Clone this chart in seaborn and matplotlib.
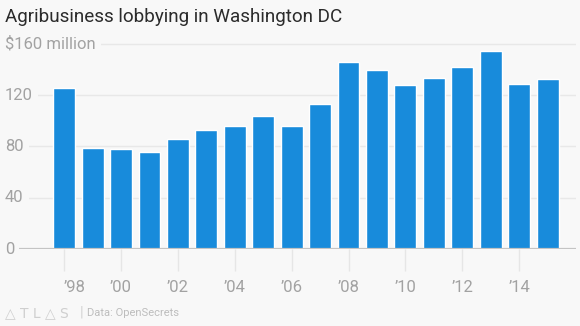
import matplotlib
matplotlib.use("Agg")
import matplotlib.pyplot as plt
import seaborn as sns
import pandas as pd

years = list(range(1998, 2016))
year_labels = [str(y) for y in years]
values = [125.7, 79.0, 78.2, 75.4, 85.5, 92.7, 96.1, 103.9, 95.6, 112.8,
          145.5, 139.8, 127.6, 133.5, 141.9, 154.1, 128.4, 132.7]
ytick_vals = [0, 40, 80, 120, 160]
ytick_labels = ["0", "40", "80", "120", "$160 million"]
xtick_years = [1998, 2000, 2002, 2004, 2006, 2008, 2010, 2012, 2014]
xtick_labels = ["\u201998", "\u201900", "\u201902", "\u201904", "\u201906",
                "\u201908", "\u201910", "\u201912", "\u201914"]
title = "Agribusiness lobbying in Washington DC"
source = "Data: OpenSecrets"

BG = "#f8f8f8"
BAR = "#188bdb"
GRID = "#e8e8e8"
LABEL = "#a2a2a2"

sns.set_theme(style="white")
plt.rcParams["font.family"] = ["Roboto", "DejaVu Sans"]

df = pd.DataFrame({"year": year_labels, "value": values})

W, H = 580, 326
fig = plt.figure(figsize=(W / 100, H / 100), dpi=100, facecolor=BG)
ax = fig.add_axes([5 / W, (H - 249) / H, 571 / W, 219 / H], facecolor=BG)

sns.barplot(data=df, x="year", y="value", color=BAR, saturation=1,
            width=0.77, ax=ax, zorder=2)

ax.set_xlim(-2.08, 18.0)
ax.set_ylim(0, 219 / 1.283)
for s in ax.spines.values():
    s.set_visible(False)
ax.set_xlabel("")
ax.set_ylabel("")

# gridlines
ax.set_yticks(ytick_vals)
ax.set_yticklabels([])
ax.tick_params(axis="y", length=0)
for v in ytick_vals[1:]:
    ax.axhline(v, color=GRID, lw=1, zorder=0)
ax.axhline(0, color="#c4c4c4", lw=1.6, zorder=3)
for v, lab in zip(ytick_vals, ytick_labels):
    ax.text(0.0, v, lab, transform=ax.get_yaxis_transform(), ha="left",
            va="center", fontsize=12, color=LABEL, fontweight="normal",
            zorder=4,
            bbox=dict(boxstyle="square,pad=0.3", facecolor=BG, edgecolor="none"))

# x ticks
pos = [years.index(y) for y in xtick_years]
ax.set_xticks(pos)
ax.set_xticklabels(xtick_labels, fontsize=12, color=LABEL, fontweight="normal")
ax.tick_params(axis="x", length=16, width=1, color="#e6e6e6", pad=6,
               bottom=True)
ax.get_xticklabels()[0].set_ha("left")

fig.text(5 / W, 1 - 17 / H, title, ha="left", va="center", fontsize=13.6,
         color="#2b2b2b")
fig.text(5 / W, 1 - 313 / H, "\u25b3 T L \u25b3 S", ha="left", va="center",
         fontsize=10, color="#cfcfcf", family=["DejaVu Sans"])
fig.text(80 / W, 1 - 313 / H, "|", ha="left", va="center", fontsize=11,
         color="#d5d5d5")
fig.text(87 / W, 1 - 313 / H, source, ha="left", va="center", fontsize=8,
         color="#bdbdbd")

fig.savefig("out.png", dpi=100, facecolor=BG)
